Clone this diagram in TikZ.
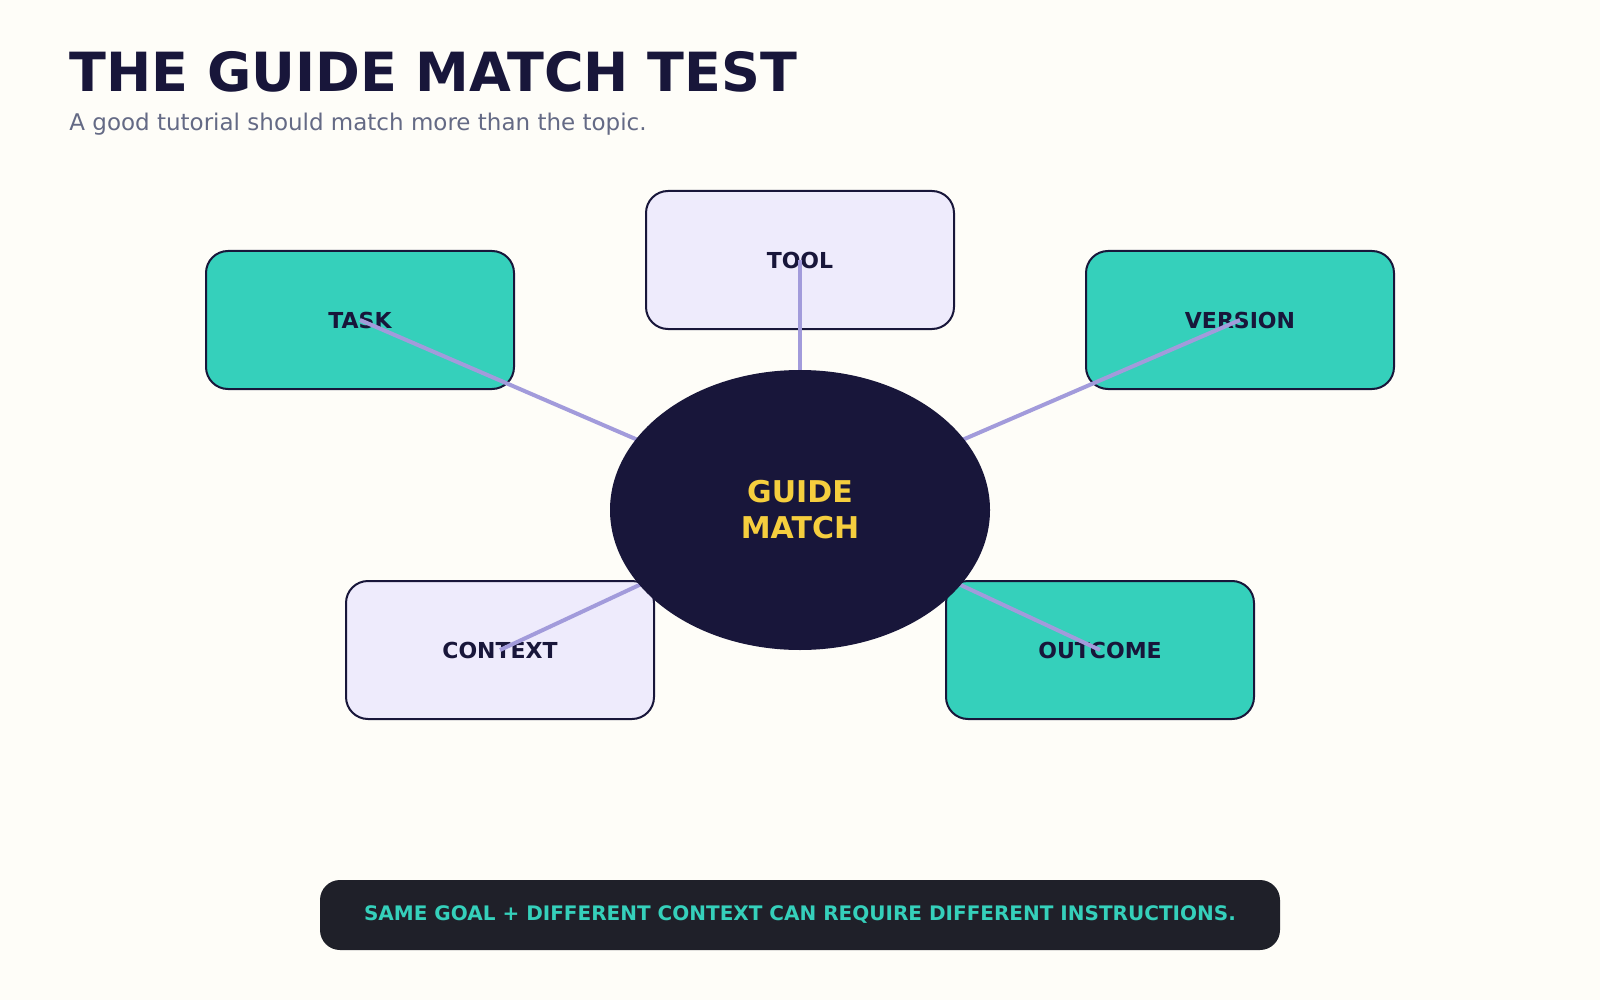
\documentclass[tikz,border=0pt]{standalone}
\usepackage{fontspec}
\setmainfont{DejaVu Sans}
\usepackage{tikz}
\usepackage{xcolor}
\usetikzlibrary{shapes.geometric}
\definecolor{bgcol}{HTML}{FEFDF8}
\definecolor{navy}{HTML}{18163A}
\definecolor{teal}{HTML}{35D0BB}
\definecolor{lav}{HTML}{EEEBFC}
\definecolor{link}{HTML}{A29BDB}
\definecolor{barcol}{HTML}{1F2029}
\definecolor{subcol}{HTML}{646A85}
\definecolor{gold}{HTML}{F5CE3E}
\begin{document}
\begin{tikzpicture}[x=0.5pt,y=-0.5pt,
    factor/.style={draw=navy, line width=1pt, rounded corners=11pt, minimum width=154pt,
      minimum height=69pt, font=\bfseries\fontsize{11}{13}\selectfont, text=navy},
    key/.style={factor, fill=teal},
    side/.style={factor, fill=lav},
    spoke/.style={draw=link, line width=2pt}]
    \fill [bgcol] (0,0) rectangle (1600,1000);
\node [anchor=base west, text=navy, font=\bfseries\fontsize{27}{32}\selectfont, inner sep=0] (title) at (69,92) {THE GUIDE MATCH TEST};
\node [anchor=base west, text=subcol, font=\fontsize{11.5}{14}\selectfont, inner sep=0] (subtitle) at (69,131) {A good tutorial should match more than the topic.};

\node [key] (task) at (360,320) {TASK};
\node [side] (tool) at (800,260) {TOOL};
\node [key] (version) at (1240,320) {VERSION};
\node [side] (context) at (500,650) {CONTEXT};
\node [key] (outcome) at (1100,650) {OUTCOME};

\coordinate (hub) at (800,510);
	\draw [spoke] (hub) -- (task.center);
	\draw [spoke] (hub) -- (tool.center);
	\draw [spoke] (hub) -- (version.center);
	\draw [spoke] (hub) -- (context.center);
	\draw [spoke] (hub) -- (outcome.center);

\node [ellipse, fill=navy, minimum width=190pt, minimum height=140pt, align=center,
  text=gold, font=\bfseries\fontsize{15}{18}\selectfont] (guide) at (hub) {GUIDE\\MATCH};

\node [fill=barcol, rounded corners=10pt, minimum width=480pt, minimum height=35pt,
  text=teal, font=\bfseries\fontsize{10}{12}\selectfont] (note) at (800,915)
  {SAME GOAL + DIFFERENT CONTEXT CAN REQUIRE DIFFERENT INSTRUCTIONS.};
  \end{tikzpicture}
\end{document}
